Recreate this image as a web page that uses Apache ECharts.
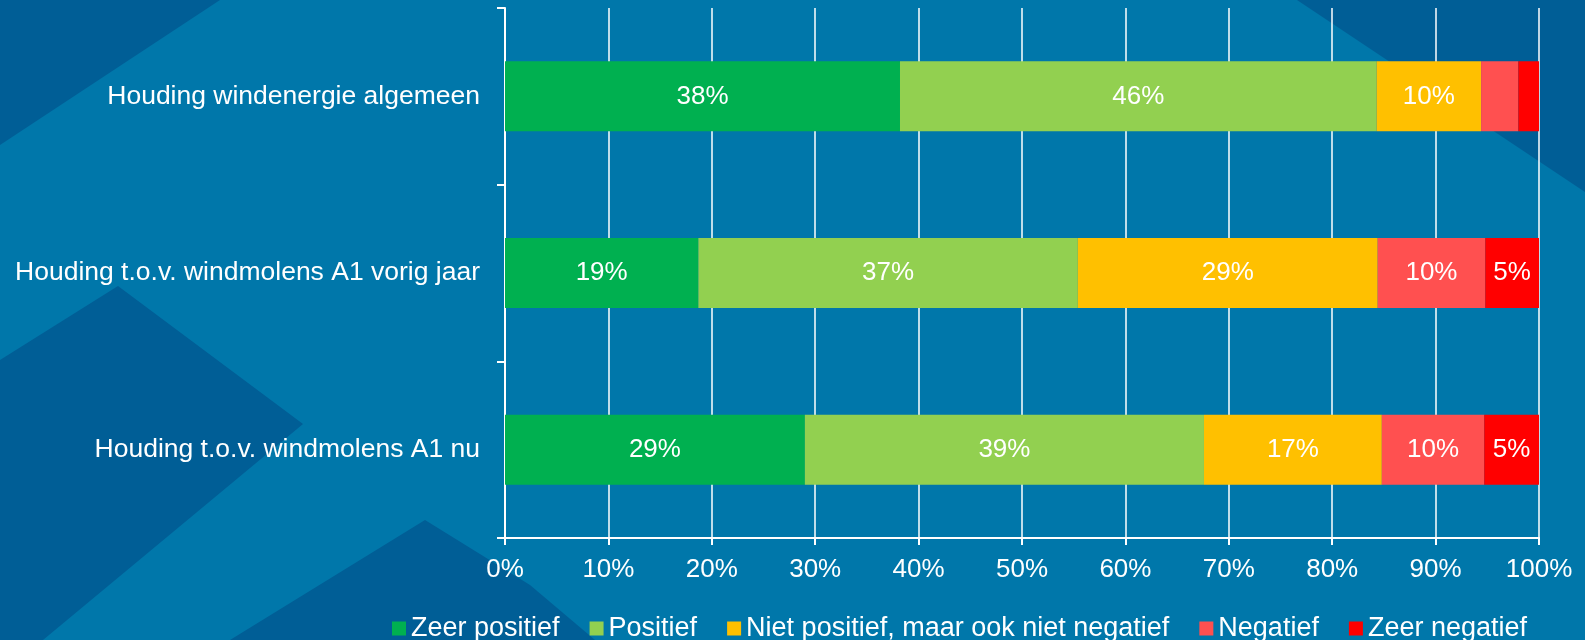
<!DOCTYPE html>
<html>
<head>
<meta charset="utf-8">
<script src="https://cdn.jsdelivr.net/npm/echarts@6/dist/echarts.min.js"></script>
<style>
  html, body { margin: 0; padding: 0; background: #0077AA; }
  #chart { width: 1585px; height: 640px; }
</style>
</head>
<body>
<div id="chart"></div>
<script>
// ---- data ----
const categories = [
  'Houding windenergie algemeen',
  'Houding t.o.v. windmolens A1 vorig jaar',
  'Houding t.o.v. windmolens A1 nu'
];
const seriesNames = [
  'Zeer positief',
  'Positief',
  'Niet positief, maar ook niet negatief',
  'Negatief',
  'Zeer negatief'
];
const zeerPositief = [38.2, 18.7, 29.0];
const positief     = [46.1, 36.7, 38.6];
const neutraal     = [10.1, 29.0, 17.2];
const negatief     = [3.6, 10.4, 9.9];
const zeerNegatief = [2.0, 5.2, 5.3];
const xTickLabels = ['0%','10%','20%','30%','40%','50%','60%','70%','80%','90%','100%'];

const seriesValues = [zeerPositief, positief, neutraal, negatief, zeerNegatief];
const seriesColors = ['#00B050', '#92D050', '#FFC000', '#FF5050', '#FF0000'];

const FONT = 'Liberation Sans, Arial, sans-serif';
const chart = echarts.init(document.getElementById('chart'));

const option = {
  backgroundColor: '#0077AA',
  animation: false,
  textStyle: { fontFamily: FONT },
  graphic: [
    { type: 'polygon', z: -10, silent: true,
      shape: { points: [[0,0],[220,0],[0,145]] }, style: { fill: '#005E96' } },
    { type: 'polygon', z: -10, silent: true,
      shape: { points: [[0,360],[118,286],[303,424],[43,640],[0,640]] }, style: { fill: '#005E96' } },
    { type: 'polygon', z: -10, silent: true,
      shape: { points: [[230,640],[425,520],[530,585],[595,640]] }, style: { fill: '#005E96' } },
    { type: 'polygon', z: -10, silent: true,
      shape: { points: [[1297,0],[1585,0],[1585,192]] }, style: { fill: '#005E96' } }
  ],
  grid: { left: 505, right: 46, top: 8, bottom: 102, containLabel: false },
  legend: {
    data: seriesNames,
    left: 387,
    top: 610,
    icon: 'rect',
    itemWidth: 14,
    itemHeight: 14,
    itemGap: 30,
    textStyle: { color: '#ffffff', fontSize: 27, fontFamily: FONT }
  },
  xAxis: {
    type: 'value',
    min: 0,
    max: 100,
    interval: 10,
    axisLine: { show: true, lineStyle: { color: '#ffffff', width: 2 } },
    axisTick: { show: true, length: 7, lineStyle: { color: '#ffffff', width: 2 } },
    splitLine: { show: true, lineStyle: { color: '#ffffff', width: 1.5 } },
    axisLabel: {
      color: '#ffffff', fontSize: 26, fontFamily: FONT, margin: 19,
      formatter: function (v) { return xTickLabels[Math.round(v / 10)]; }
    }
  },
  yAxis: {
    type: 'category',
    data: categories,
    inverse: true,
    axisLine: { show: true, lineStyle: { color: '#ffffff', width: 2 } },
    axisTick: { show: true, length: 8, lineStyle: { color: '#ffffff', width: 2 } },
    axisLabel: { color: '#ffffff', fontSize: 26.5, fontFamily: FONT, margin: 25 }
  },
  series: seriesNames.map(function (name, i) {
    return {
      name: name,
      type: 'bar',
      stack: 'total',
      barWidth: 70,
      data: seriesValues[i],
      itemStyle: { color: seriesColors[i] },
      label: {
        show: true,
        position: 'inside',
        color: '#ffffff',
        fontSize: 26,
        fontFamily: FONT,
        formatter: function (p) { return p.value >= 4.5 ? Math.round(p.value) + '%' : ''; }
      }
    };
  })
};
chart.setOption(option);
</script>
</body>
</html>
